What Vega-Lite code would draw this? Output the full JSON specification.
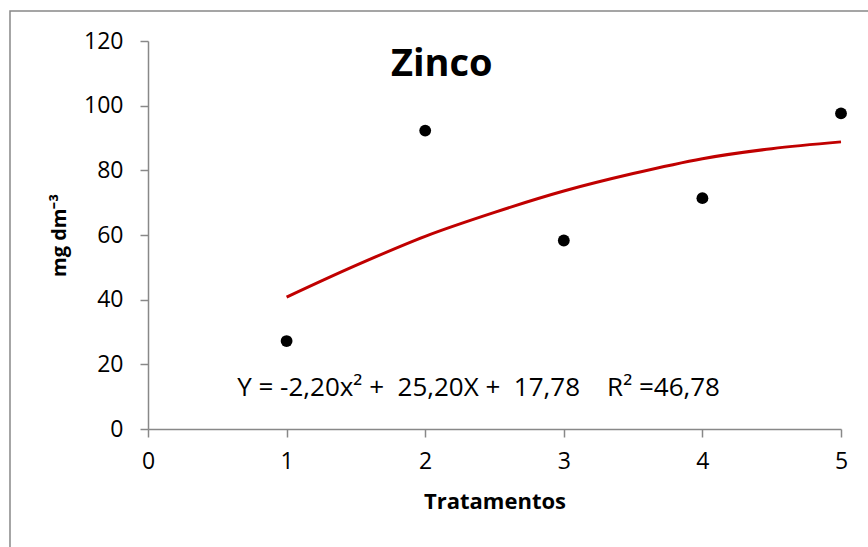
{
  "$schema": "https://vega.github.io/schema/vega-lite/v6.json",
  "width": 693,
  "height": 388,
  "autosize": {"type": "none"},
  "padding": {"left": 148, "top": 41, "right": 27, "bottom": 118},
  "background": "white",
  "config": {
    "view": {"stroke": null},
    "font": "Open Sans"
  },
  "datasets": {
    "points": [
      {"trat": 1, "zn": 27.2},
      {"trat": 2, "zn": 92.3},
      {"trat": 3, "zn": 58.3},
      {"trat": 4, "zn": 71.4},
      {"trat": 5, "zn": 97.6}
    ],
    "curve": [
      {"trat": 1, "fit": 40.8},
      {"trat": 1.5, "fit": 50.6},
      {"trat": 2, "fit": 59.6},
      {"trat": 2.5, "fit": 67.0},
      {"trat": 3, "fit": 73.6},
      {"trat": 3.5, "fit": 79.0},
      {"trat": 4, "fit": 83.6},
      {"trat": 4.5, "fit": 86.7},
      {"trat": 5, "fit": 88.8}
    ],
    "one": [{"label": "annotation"}]
  },
  "layer": [
    {
      "data": {"name": "one"},
      "mark": {"type": "rect", "fill": null, "stroke": "#888888", "strokeWidth": 1.5, "clip": false},
      "encoding": {
        "x": {"datum": -0.9957, "type": "quantitative", "scale": {"domain": [0, 5]}},
        "x2": {"datum": 6.5},
        "y": {"datum": 129.3, "type": "quantitative", "scale": {"domain": [0, 120]}},
        "y2": {"datum": -60}
      }
    },
    {
      "data": {"name": "curve"},
      "mark": {"type": "line", "color": "#C00000", "strokeWidth": 3, "interpolate": "monotone"},
      "encoding": {
        "x": {
          "field": "trat", "type": "quantitative",
          "scale": {"domain": [0, 5], "nice": false, "zero": true},
          "axis": {
            "title": "Tratamentos", "values": [0, 1, 2, 3, 4, 5], "format": "d", "grid": false, "labelFlush": false,
            "domainColor": "#888888", "domainWidth": 1.5, "tickColor": "#888888", "tickWidth": 1.5, "tickSize": 8,
            "labelFontSize": 23, "labelColor": "black", "labelPadding": 13, "labelFont": "Open Sans",
            "titleFontSize": 22, "titleFontWeight": "bold", "titleColor": "black", "titlePadding": 18, "titleFont": "Open Sans"
          }
        },
        "y": {
          "field": "fit", "type": "quantitative",
          "scale": {"domain": [0, 120], "nice": false},
          "axis": {
            "title": "mg dm⁻³", "values": [0, 20, 40, 60, 80, 100, 120], "grid": false, "labelFlush": false,
            "domainColor": "#888888", "domainWidth": 1.5, "tickColor": "#888888", "tickWidth": 1.5, "tickSize": 8,
            "labelFontSize": 23, "labelColor": "black", "labelPadding": 17, "labelFont": "Open Sans",
            "titleFontSize": 20, "titleFontWeight": "bold", "titleColor": "black", "titlePadding": 14, "titleFont": "Open Sans"
          }
        }
      }
    },
    {
      "data": {"name": "points"},
      "mark": {"type": "circle", "color": "black", "opacity": 1, "size": 140},
      "encoding": {
        "x": {"field": "trat", "type": "quantitative"},
        "y": {"field": "zn", "type": "quantitative"}
      }
    },
    {
      "data": {"name": "one"},
      "mark": {"type": "text", "text": "Zinco", "fontSize": 38, "fontWeight": "bold", "font": "Open Sans", "color": "black", "align": "center", "baseline": "middle"},
      "encoding": {
        "x": {"datum": 2.12, "type": "quantitative"},
        "y": {"datum": 112.5, "type": "quantitative"}
      }
    },
    {
      "data": {"name": "one"},
      "mark": {"type": "text", "text": "Y = -2,20x² +\u00a0 25,20X +\u00a0 17,78 \u00a0\u00a0 R² =46,78", "fontSize": 26, "font": "Open Sans", "color": "black", "align": "center", "baseline": "middle"},
      "encoding": {
        "x": {"datum": 2.385, "type": "quantitative"},
        "y": {"datum": 12.7, "type": "quantitative"}
      }
    }
  ]
}
